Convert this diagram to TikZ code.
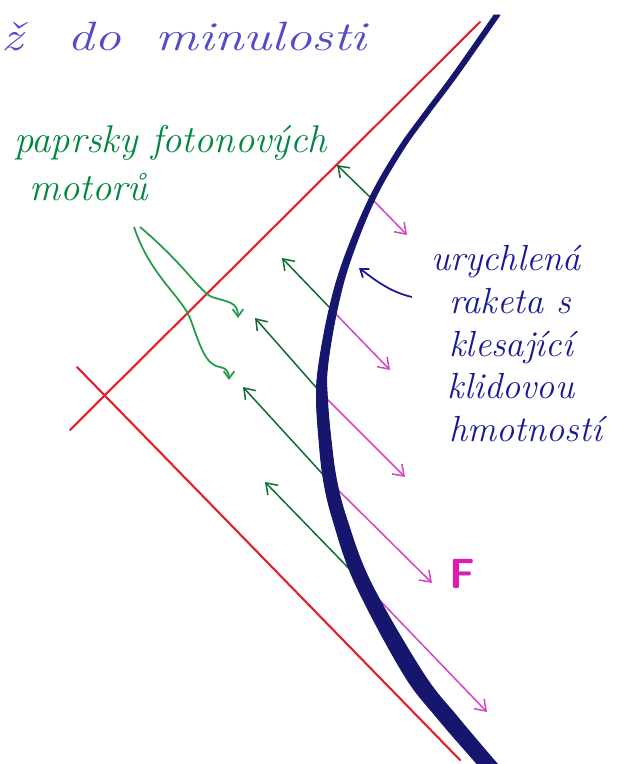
\documentclass[tikz,border=0pt]{standalone}
\usepackage{fontspec}
\usepackage{graphicx}
\usetikzlibrary{arrows.meta}
\definecolor{penred}{RGB}{228,30,45}
\definecolor{pennavy}{RGB}{22,22,110}
\definecolor{penblue}{RGB}{25,25,150}
\definecolor{penviolet}{RGB}{85,75,200}
\definecolor{pengreen}{RGB}{15,110,50}
\definecolor{penleaf}{RGB}{0,135,65}
\definecolor{penlight}{RGB}{35,155,75}
\definecolor{penpink}{RGB}{210,70,195}
\definecolor{penmagenta}{RGB}{220,30,175}

\begin{document}
\begin{tikzpicture}[
  x=.03cm,y=-.03cm,
  every node/.style={inner sep=0pt},
  hand/.style 2 args={font=\itshape\fontsize{#1}{#2}\selectfont},
  barb/.style={-{Straight Barb[length=3mm,width=4.2mm]}},
  cone/.style={penred,line width=1.8pt,line cap=round},
  ray/.style={barb,pengreen,line width=1.3pt},
  force/.style={barb,penpink,line width=1.3pt},
  hint/.style={-{Straight Barb[length=2.2mm,width=3.2mm]},line width=1.5pt}
]
\useasboundingbox (0,0) rectangle (643,764);
% svetelny kuzel
\coordinate (c1) at (70,430);
\coordinate (c2) at (480,22);
\coordinate (d1) at (77,367);
\coordinate (d2) at (460,760);
\draw[cone] (c1) -- (c2);
\draw[cone] (d1) -- (d2);
% paprsky a sily
\foreach \n/\ox/\oy/\gx/\gy/\fx/\fy in {
    a/372/199/337/165/407/235,
    b/331/309/282/258/390/370,
    c/321/393/255/318/405/477,
    d/328/480/243/387/432/583,
    e/365/585/265/482/487/712} {
  \coordinate (o\n) at (\ox,\oy);
  \coordinate (g\n) at (\gx,\gy);
  \coordinate (f\n) at (\fx,\fy);
  \draw[ray] (o\n) -- (g\n);
  \draw[force] (o\n) -- (f\n);
}
% svetocara rakety (dole silnejsi)
\filldraw[pennavy,line width=.8pt,line join=round] plot[smooth,tension=.6] coordinates {
  (494,15) (452,75) (422,115) (397,150) (369,199) (343.5,260)
  (329,310) (318.5,367) (316.5,400) (319,440) (323.5,480) (333,520)
  (355,583) (403,673) (436.5,717) (479,766)}
  -- plot[smooth,tension=.6] coordinates {
  (499,766) (457.5,717) (423,673) (371,583) (347,520)
  (336.5,480) (331,440) (327.5,400) (327.5,367) (337,310) (350.5,260)
  (375,199) (403,150) (428,115) (458,75) (500,15)} -- cycle;
% popisky
\node[hand={35}{40},penviolet,anchor=base west] (minulost) at (1,51)
  {\scalebox{1.3}[1]{ž\hspace{.5em} do\hspace{.3em} minulosti}};
\node[hand={33}{41},penleaf,anchor=north west,align=left] (paprsky) at (14,125)
  {paprsky fotonových\\\hspace*{.45cm}motorů};
\node[hand={31}{36.5},penblue,anchor=north west,align=left] (raketa) at (431,245)
  {urychlená\\\hspace*{.55cm}raketa s\\\hspace*{.55cm}klesající\\
   \hspace*{.5cm}klidovou\\\hspace*{.55cm}hmotností};
\node[penmagenta,font=\sffamily\bfseries\fontsize{36}{36}\selectfont] (F) at (462,574) {F};
% ukazatele
\coordinate (p1) at (140,227);
\coordinate (p2) at (134,227);
\coordinate (t1) at (238,318);
\coordinate (t2) at (229,380);
\draw[hint,penlight] (p1) .. controls (185,265) and (200,292) .. (212,297)
  .. controls (228,302) and (238,302) .. (t1);
\draw[hint,penlight] (p2) .. controls (150,275) and (180,295) .. (190,318)
  .. controls (200,345) and (205,365) .. (220,367)
  .. controls (226,368) and (229,372) .. (t2);
\coordinate (q1) at (412,297);
\coordinate (q2) at (359,268);
\draw[hint,penblue] (q1) .. controls (390,292) and (375,280) .. (q2);
\end{tikzpicture}
\end{document}
